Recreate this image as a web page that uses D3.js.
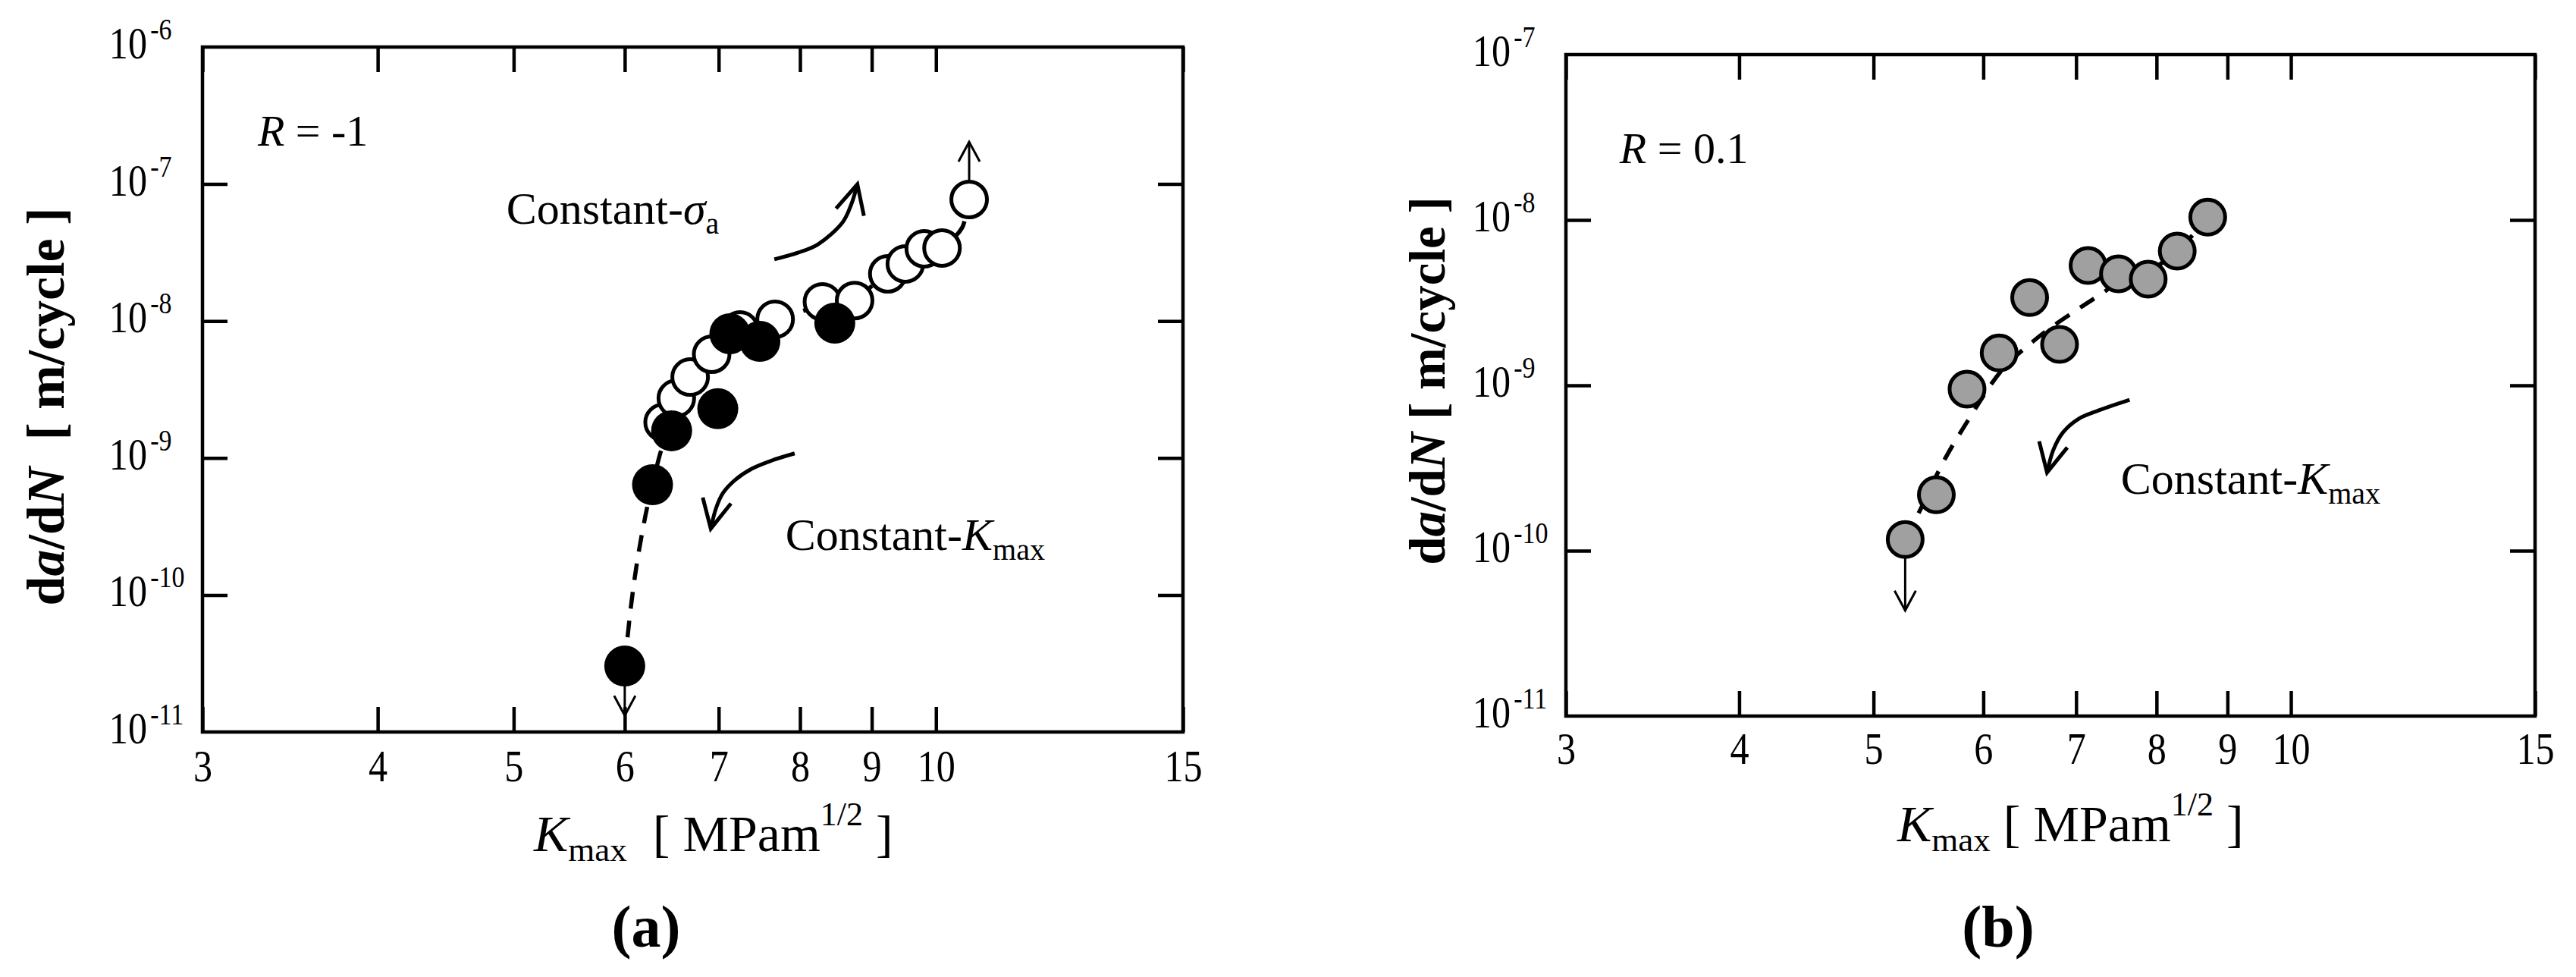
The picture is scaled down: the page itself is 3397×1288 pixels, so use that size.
<!DOCTYPE html>
<html lang="en">
<head>
<meta charset="utf-8">
<script src="https://d3js.org/d3.v7.min.js"></script>
<style>
  body { margin: 0; background: #fff; }
  svg text { font-family: "Liberation Serif", "Times New Roman", serif; fill: #000; }
</style>
</head>
<body>
<script>
// ---------- data ----------
// x tick labels and y exponents
var kTicks = [3, 4, 5, 6, 7, 8, 9, 10, 15];
var expTicksA = [-11, -10, -9, -8, -7, -6];
var expTicksB = [-11, -10, -9, -8, -7];

// panel (a) R = -1, constant-sigma_a (open) and constant-Kmax (solid)
var kOpenA = [6.39, 6.53, 6.68, 6.92, 7.25, 7.68, 8.30, 8.75, 9.24, 9.51, 9.81, 10.10, 10.56];
var rateOpenA = [1.82e-9, 2.73e-9, 3.9e-9, 5.72e-9, 8.6e-9, 1.03e-8, 1.38e-8, 1.41e-8, 2.21e-8, 2.61e-8, 3.37e-8, 3.41e-8, 7.71e-8];
var kSolidA = [6.00, 6.28, 6.48, 6.99, 7.13, 7.49, 8.47];
var rateSolidA = [3.03e-11, 6.38e-10, 1.58e-9, 2.29e-9, 8.07e-9, 7.1e-9, 9.65e-9];
// dashed trend line (a)
var kCurveA = [6.00, 6.02, 6.21, 6.28, 6.34, 6.48, 6.68, 6.92, 7.25, 7.68, 8.03, 8.30, 8.75, 9.24, 9.81, 10.10, 10.44, 10.56];
var rateCurveA = [3.03e-11, 4.33e-11, 3.88e-10, 6.38e-10, 9.6e-10, 1.9e-9, 3.9e-9, 5.7e-9, 8.2e-9, 1.05e-8, 1.18e-8, 1.35e-8, 1.5e-8, 2.2e-8, 3.2e-8, 3.6e-8, 4.81e-8, 7.71e-8];

// panel (b) R = 0.1, constant-Kmax (grey)
var kB = [5.27, 5.55, 5.84, 6.16, 6.48, 6.81, 7.14, 7.51, 7.89, 8.28, 8.71];
var rateB = [1.17e-10, 2.18e-10, 9.48e-10, 1.57e-9, 3.40e-9, 1.77e-9, 5.31e-9, 4.72e-9, 4.39e-9, 6.49e-9, 1.04e-8];
var kCurveB = [5.27, 5.37, 5.61, 5.86, 6.17, 6.52, 7.03, 7.29, 7.51, 7.89, 8.28, 8.71];
var rateCurveB = [1.17e-10, 1.59e-10, 3.40e-10, 6.28e-10, 1.20e-9, 1.85e-9, 2.91e-9, 3.55e-9, 4.2e-9, 4.9e-9, 6.49e-9, 1.04e-8];

// annotation arrows, in data units [K, da/dN]
var arrowSigmaA = [[7.67, 2.82e-8], [7.98, 3.16e-8], [8.24, 3.63e-8], [8.58, 5.26e-8], [8.70, 7.05e-8], [8.79, 9.95e-8]];
var arrowKmaxA = [[7.93, 1.08e-9], [7.64, 9.6e-10], [7.39, 8.34e-10], [7.19, 6.9e-10], [7.05, 5.55e-10], [6.97, 4.3e-10], [6.91, 3.05e-10]];
var arrowKmaxB = [[7.65, 8.18e-10], [7.27, 7.06e-10], [7.03, 6.28e-10], [6.85, 5.2e-10], [6.74, 4.07e-10], [6.67, 2.97e-10]];
var arrowDownA = [[6.00, 3.03e-11], [6.00, 1.32e-11]];
var arrowUpA = [[10.56, 7.71e-8], [10.56, 2.03e-7]];
var arrowDownB = [[5.27, 1.17e-10], [5.27, 4.35e-11]];

// ---------- layout ----------
var W = 3397, H = 1288;
var svg = d3.select("body").append("svg").attr("width", W).attr("height", H);

var defs = svg.append("defs");
function addMarker(id, len, half, sw) {
    defs.append("marker").attr("id", id)
        .attr("markerUnits", "userSpaceOnUse")
        .attr("viewBox", (-len - 10) + " " + (-half - 10) + " " + (len + 20) + " " + (2 * half + 20))
        .attr("markerWidth", len + 20).attr("markerHeight", 2 * half + 20)
        .attr("refX", 0).attr("refY", 0).attr("orient", "auto")
        .append("path")
        .attr("d", "M" + (-len) + "," + (-half) + "L0,0L" + (-len) + "," + half)
        .attr("fill", "none").attr("stroke", "#000").attr("stroke-width", sw)
        .attr("stroke-linejoin", "miter");
}
addMarker("headThin", 26, 14, 3);
addMarker("headThick", 38, 19, 5);

var zip = function(a, b) { return a.map(function(d, i) { return [d, b[i]]; }); };

function panel(cfg) {
    var x = d3.scaleLog().domain([3, 15]).range([cfg.left, cfg.right]);
    var y = d3.scaleLog().domain(cfg.yDomain).range([cfg.bottom, cfg.top]);
    var g = svg.append("g");
    var yTickVals = cfg.exps.slice(1, -1).map(function(e) { return Math.pow(10, e); });

    function styleAxis(ga) {
        ga.attr("font-size", null).attr("font-family", null);
        ga.select(".domain").remove();
        ga.selectAll("line").attr("stroke", "#000").attr("stroke-width", 4.5);
    }

    //bottom axis with labels
    var gb = g.append("g").attr("transform", "translate(0," + cfg.bottom + ")")
        .call(d3.axisBottom(x).tickValues(kTicks).tickSizeInner(-33).tickSizeOuter(0).tickFormat(d3.format("d")));
    styleAxis(gb);
    gb.selectAll("text").attr("y", cfg.xLabelGap).attr("dy", null)
        .attr("transform", "scale(0.85,1)").style("font-size", "59px");

    //top, left, right: ticks only, pointing inward
    styleAxis(g.append("g").attr("transform", "translate(0," + cfg.top + ")")
        .call(d3.axisTop(x).tickValues(kTicks).tickSizeInner(-33).tickSizeOuter(0).tickFormat("")));
    styleAxis(g.append("g").attr("transform", "translate(" + cfg.left + ",0)")
        .call(d3.axisLeft(y).tickValues(yTickVals).tickSizeInner(-33).tickSizeOuter(0).tickFormat("")));
    styleAxis(g.append("g").attr("transform", "translate(" + cfg.right + ",0)")
        .call(d3.axisRight(y).tickValues(yTickVals).tickSizeInner(-33).tickSizeOuter(0).tickFormat("")));

    g.append("rect").attr("x", cfg.left).attr("y", cfg.top)
        .attr("width", cfg.right - cfg.left).attr("height", cfg.bottom - cfg.top)
        .attr("fill", "none").attr("stroke", "#000").attr("stroke-width", 4.5);

    //y tick labels 10^n
    cfg.exps.forEach(function(e) {
        var lg = g.append("g").attr("transform", "translate(" + (cfg.left - 73) + "," + (y(Math.pow(10, e)) + 15) + ")");
        lg.append("text").attr("text-anchor", "end").attr("transform", "scale(0.85,1)")
            .style("font-size", "59px").text("10");
        lg.append("text").attr("x", 5).attr("y", -25).attr("transform", "scale(0.85,1)")
            .style("font-size", "40px").text("-" + Math.abs(e));
    });

    //axis titles
    var xt = g.append("text").attr("x", cfg.left + 437).attr("y", cfg.xTitleY)
        .style("font-size", "68px").style("white-space", "pre");
    xt.append("tspan").style("font-style", "italic").text("K");
    xt.append("tspan").style("font-size", "45px").attr("dy", 13).text("max");
    xt.append("tspan").attr("dy", -13).text(cfg.gap + "[ MPam");
    xt.append("tspan").style("font-size", "44px").attr("dy", -34).text("1/2");
    xt.append("tspan").attr("dy", 34).text(" ]");

    var yt = g.append("text").attr("text-anchor", "middle")
        .attr("transform", "translate(" + cfg.yTitleX + "," + cfg.yTitleY + ") rotate(-90)")
        .style("font-size", cfg.yTitleSize + "px").style("font-weight", "bold").style("white-space", "pre");
    yt.append("tspan").text("d");
    yt.append("tspan").style("font-style", "italic").text("a");
    yt.append("tspan").text("/d");
    yt.append("tspan").style("font-style", "italic").text("N");
    yt.append("tspan").text(cfg.gap + "[ m/cycle ]");

    g.append("text").attr("x", cfg.tag[0]).attr("y", 1248).attr("text-anchor", "middle")
        .style("font-size", "78px").style("font-weight", "bold").text(cfg.tag[1]);

    //R value
    var rt = g.append("text").attr("x", x(cfg.rPos[0])).attr("y", y(cfg.rPos[1]))
        .style("font-size", "58px").style("white-space", "pre");
    rt.append("tspan").style("font-style", "italic").text("R");
    rt.append("tspan").text(" = " + cfg.rText);

    return {g: g, x: x, y: y};
}

function dashed(p, pts, dash) {
    p.g.append("path").datum(pts)
        .attr("fill", "none").attr("stroke", "#000").attr("stroke-width", 5.5)
        .attr("stroke-dasharray", dash)
        .attr("d", d3.line().curve(d3.curveMonotoneX)
            .x(function(d) { return p.x(d[0]); }).y(function(d) { return p.y(d[1]); }));
}

function arrow(p, pts, head, sw) {
    p.g.append("path").datum(pts)
        .attr("fill", "none").attr("stroke", "#000").attr("stroke-width", sw)
        .attr("marker-end", "url(#" + head + ")")
        .attr("d", d3.line().curve(d3.curveCatmullRom)
            .x(function(d) { return p.x(d[0]); }).y(function(d) { return p.y(d[1]); }));
}

function label(p, pos, main, italic, sub) {
    var t = p.g.append("text").attr("x", p.x(pos[0])).attr("y", p.y(pos[1]))
        .style("font-size", "60px");
    t.append("tspan").text(main);
    t.append("tspan").style("font-style", "italic").text(italic);
    t.append("tspan").style("font-size", "40px").attr("dy", 13).text(sub);
}

// ---------- panel (a) ----------
var pa = panel({
    left: 267, right: 1560, top: 62, bottom: 965, yDomain: [1e-11, 1e-6],
    exps: expTicksA, xLabelGap: 65, xTitleY: 1122, gap: "  ",
    yTitleX: 84, yTitleY: 536, yTitleSize: 70,
    tag: [852, "(a)"], rPos: [3.285, 1.906e-7], rText: "-1"
});
dashed(pa, zip(kCurveA, rateCurveA), "22,16");
arrow(pa, arrowDownA, "headThin", 3);
arrow(pa, arrowUpA, "headThin", 3);
arrow(pa, arrowSigmaA, "headThick", 5);
arrow(pa, arrowKmaxA, "headThick", 5);

pa.g.selectAll(".openA").data(zip(kOpenA, rateOpenA)).enter().append("circle")
    .attr("cx", function(d) { return pa.x(d[0]); })
    .attr("cy", function(d) { return pa.y(d[1]); })
    .attr("r", 23.5).attr("fill", "#fff").attr("stroke", "#000").attr("stroke-width", 5);
pa.g.selectAll(".solidA").data(zip(kSolidA, rateSolidA)).enter().append("circle")
    .attr("cx", function(d) { return pa.x(d[0]); })
    .attr("cy", function(d) { return pa.y(d[1]); })
    .attr("r", 27).attr("fill", "#000");

label(pa, [4.94, 5.13e-8], "Constant-", "\u03c3", "a");
label(pa, [7.81, 2.13e-10], "Constant-", "K", "max");

// ---------- panel (b) ----------
var pb = panel({
    left: 2065, right: 3343, top: 72, bottom: 944, yDomain: [1e-11, 1e-7],
    exps: expTicksB, xLabelGap: 63, xTitleY: 1109, gap: " ",
    yTitleX: 1905, yTitleY: 502, yTitleSize: 67,
    tag: [2635, "(b)"], rPos: [3.28, 2.21e-8], rText: "0.1"
});
dashed(pb, zip(kCurveB, rateCurveB), "22,17");
arrow(pb, arrowDownB, "headThin", 3);
arrow(pb, arrowKmaxB, "headThick", 5);

pb.g.selectAll(".greyB").data(zip(kB, rateB)).enter().append("circle")
    .attr("cx", function(d) { return pb.x(d[0]); })
    .attr("cy", function(d) { return pb.y(d[1]); })
    .attr("r", 23).attr("fill", "#a0a0a0").attr("stroke", "#000").attr("stroke-width", 5);

label(pb, [7.54, 2.21e-10], "Constant-", "K", "max");
</script>
</body>
</html>
